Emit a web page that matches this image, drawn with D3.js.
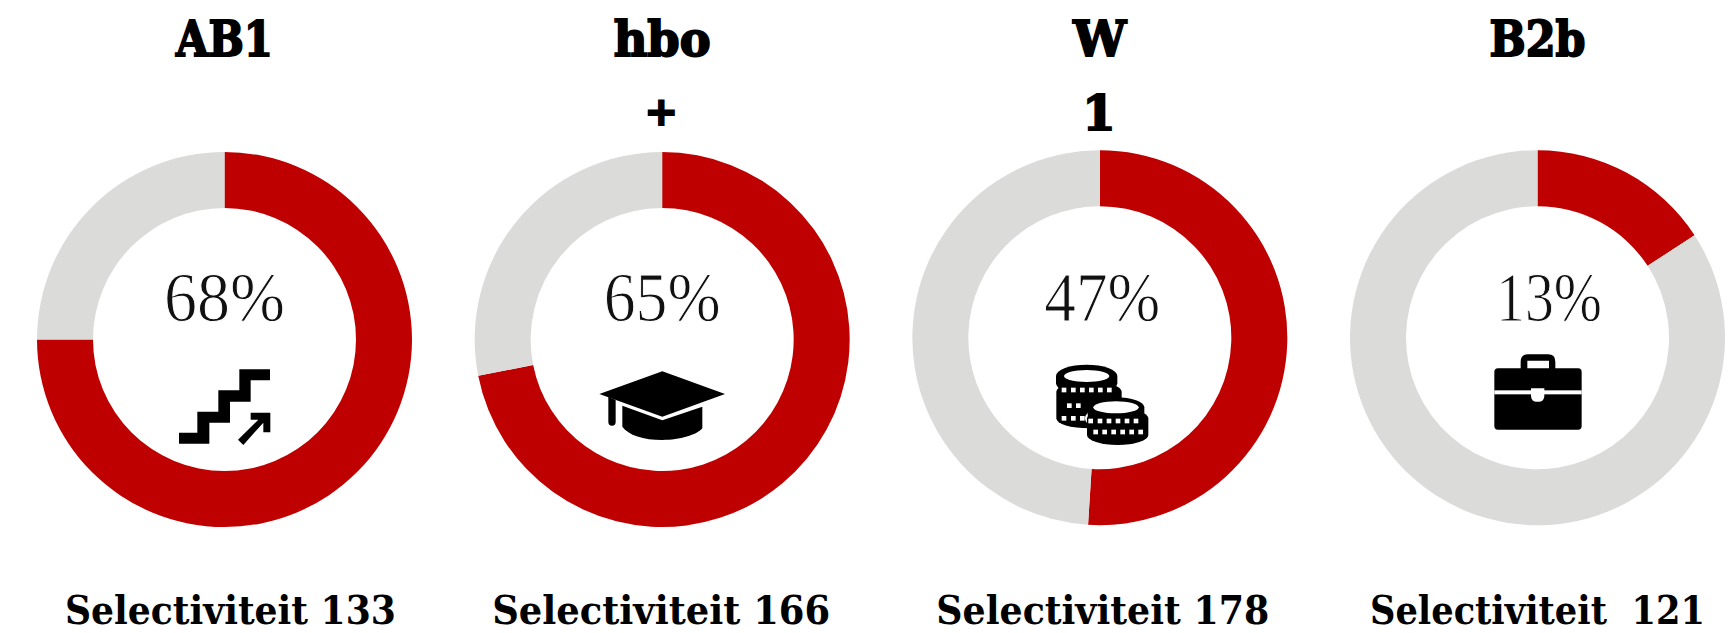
<!DOCTYPE html>
<html>
<head>
<meta charset="utf-8">
<script src="https://cdn.jsdelivr.net/npm/d3@7"></script>
<style>
  html, body { margin: 0; background: #fff; overflow: hidden; }
  text { white-space: pre; }
</style>
</head>
<body>
<div id="chart"></div>
<script>
// data
const CATEGORIES = ["AB1", "hbo", "W", "B2b"];
const SUB_LABELS = ["", "+", "1", ""];
const PCT_LABELS = ["68%", "65%", "47%", "13%"];
// the drawn arcs do not follow the printed percentages, so they are kept apart
const ARC_SHARES = [75, 71.9, 51, 15.8];
const SELECT_LABELS = ["Selectiviteit 133", "Selectiviteit 166", "Selectiviteit 178", "Selectiviteit  121"];

const WIDTH = 1733, HEIGHT = 633;
const RED = "#bf0000", GREY = "#dbdbd9";
const R_OUTER = 187.5, R_INNER = 131.5;

// layout tweaks per panel, the reference is not perfectly regular
const CENTER_Y = [339.5, 339.5, 337.7, 337.7];
const PCT_DX = [0, 0, 2.5, 11.5];
const PCT_W = [121, 117, 116, 106];
const SELECT_DX = [6, -1, 3, 0];
const SELECT_W = [331, 338, 333, 335];
const TITLE_W = [97, 97, 53, 96];
const SUB_SIZE = [48, 40, 48, 48];

const svg = d3.select("#chart").append("svg")
  .attr("width", WIDTH)
  .attr("height", HEIGHT);

const x = d3.scalePoint()
  .domain(CATEGORIES)
  .range([224.5, 1537.5]);

const pie = d3.pie().sort(null).value(d => d);
const arc = d3.arc().innerRadius(R_INNER).outerRadius(R_OUTER);

const panels = svg.selectAll("g.panel")
  .data(CATEGORIES)
  .enter()
  .append("g")
  .attr("class", "panel")
  .attr("transform", (d, i) => `translate(${x(d)},${CENTER_Y[i]})`);

// Donuts
panels.each(function (d, i) {
  d3.select(this).selectAll("path.slice")
    .data(pie([ARC_SHARES[i], 100 - ARC_SHARES[i]]))
    .enter()
    .append("path")
    .attr("class", "slice")
    .attr("d", arc)
    .attr("fill", (s, j) => j === 0 ? RED : GREY);
});

// Titles
panels.append("text")
  .attr("x", 0)
  .attr("y", (d, i) => 56 - CENTER_Y[i])
  .attr("text-anchor", "middle")
  .attr("font-family", "'DejaVu Serif'")
  .attr("font-weight", 700)
  .attr("font-size", 48)
  .attr("stroke", "#000")
  .attr("stroke-width", 2)
  .attr("textLength", (d, i) => TITLE_W[i])
  .attr("lengthAdjust", "spacingAndGlyphs")
  .text(d => d);

panels.append("text")
  .attr("x", -1)
  .attr("y", (d, i) => (i === 1 ? 125 : 130) - CENTER_Y[i])
  .attr("text-anchor", "middle")
  .attr("font-family", "'DejaVu Serif'")
  .attr("font-weight", 700)
  .attr("font-size", (d, i) => SUB_SIZE[i])
  .attr("stroke", "#000")
  .attr("stroke-width", 2)
  .text((d, i) => SUB_LABELS[i]);

// Percent labels
panels.append("text")
  .attr("x", (d, i) => PCT_DX[i])
  .attr("y", (d, i) => 320.5 - CENTER_Y[i])
  .attr("text-anchor", "middle")
  .attr("font-family", "'Liberation Serif'")
  .attr("font-size", 69)
  .attr("fill", "#111")
  .attr("stroke", "#fff")
  .attr("stroke-width", 1)
  .attr("textLength", (d, i) => PCT_W[i])
  .attr("lengthAdjust", "spacingAndGlyphs")
  .text((d, i) => PCT_LABELS[i]);

// Selectiviteit labels
panels.append("text")
  .attr("x", (d, i) => SELECT_DX[i])
  .attr("y", (d, i) => 624 - CENTER_Y[i])
  .attr("text-anchor", "middle")
  .attr("font-family", "'DejaVu Serif'")
  .attr("font-weight", 700)
  .attr("font-size", 39)
  .attr("textLength", (d, i) => SELECT_W[i])
  .attr("lengthAdjust", "spacingAndGlyphs")
  .text((d, i) => SELECT_LABELS[i]);

// ------------------------------
// Icons, traced at 3x and scaled down
// ------------------------------
function iconGroup(ox, oy) {
  return svg.append("g")
    .attr("transform", `translate(${ox},${oy}) scale(${1 / 3})`);
}

// stairs
const stairs = iconGroup(160, 351);
stairs.append("path")
  .attr("d", "M57 245H112V182H175V118H238V55H330V88H272V152H210V215H148V278H57Z");
stairs.append("path")
  .attr("d", "M272 185H331V244H310V215L250 282L234 266L295 206H272Z");

// graduation cap
const cap = iconGroup(590, 360);
cap.append("path").attr("d", "M217 34L405 102L217 170L28 102Z");
cap.append("path").attr("d", "M97 137L217 181L337 140V205C320 225 270 240 217 240C160 240 115 225 97 200Z");
cap.append("path").attr("d", "M55 110L77 120V186A11 11 0 0 1 55 186Z");

// coins
const coins = iconGroup(1040, 350);
const DOTS = [
  { y: 120, xs: [72, 100, 127, 154, 181, 208] },
  { y: 167, xs: [88, 115] },
  { y: 205, xs: [72, 100, 127] },
  { y: 213, xs: [152, 180, 207, 234, 261, 288] },
  { y: 246, xs: [167, 194, 221, 248, 275, 302] }
];
function coinStack(g, cx, top, rx, ry, bottom) {
  g.append("path")
    .attr("d", `M${cx - rx} ${top}A${rx} ${ry} 0 0 1 ${cx + rx} ${top}V${bottom}A${rx} ${ry} 0 0 1 ${cx - rx} ${bottom}Z`);
}
coinStack(coins, 140, 78, 92, 34, 100);
coinStack(coins, 147, 125, 98, 30, 205);
coins.append("ellipse").attr("cx", 140).attr("cy", 78).attr("rx", 68).attr("ry", 18).attr("fill", "#fff");
coins.append("ellipse").attr("cx", 235).attr("cy", 205).attr("rx", 100).attr("ry", 42).attr("fill", "#fff");
coinStack(coins, 228, 172, 85, 30, 195);
coinStack(coins, 233, 205, 92, 30, 255);
coins.append("ellipse").attr("cx", 228).attr("cy", 172).attr("rx", 68).attr("ry", 18).attr("fill", "#fff");
DOTS.forEach(row => {
  coins.selectAll(null)
    .data(row.xs)
    .enter()
    .append("rect")
    .attr("x", d => d - 7)
    .attr("y", row.y - 7)
    .attr("width", 14)
    .attr("height", 14)
    .attr("fill", "#fff");
});

// briefcase
const bag = iconGroup(1480, 345);
bag.append("path")
  .attr("fill-rule", "evenodd")
  .attr("d", "M122 72V50Q122 28 144 28H204Q226 28 226 50V72ZM142 72H207V47H142Z");
bag.append("rect").attr("x", 43).attr("y", 70).attr("width", 262).attr("height", 184).attr("rx", 11);
bag.append("rect").attr("x", 43).attr("y", 136).attr("width", 262).attr("height", 12).attr("fill", "#fff");
bag.append("path").attr("d", "M153 130H193V152Q193 170 175 170H171Q153 170 153 152Z").attr("fill", "#fff");
</script>
</body>
</html>
